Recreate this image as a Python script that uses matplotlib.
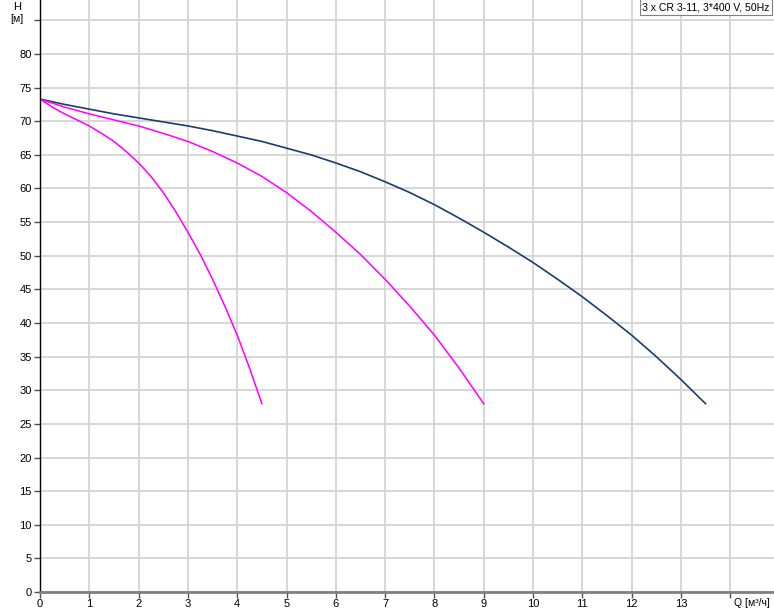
import matplotlib.pyplot as plt

# pump curves (Q in m3/h, H in m)
q_three = [0, 0.5, 1, 1.5, 2, 2.5, 3, 3.5, 4, 4.5, 5, 5.5, 6, 6.5, 7, 7.5,
           8, 8.5, 9, 9.5, 10, 10.5, 11, 11.5, 12, 12.5, 13, 13.5]
h_three = [73.3, 72.5, 71.8, 71.1, 70.5, 69.9, 69.3, 68.6, 67.8, 67.0, 66.0, 65.0,
           63.8, 62.5, 61.0, 59.4, 57.6, 55.6, 53.5, 51.3, 49.0, 46.5, 43.9, 41.1,
           38.2, 35.0, 31.6, 28.0]

q_two = [0, 0.5, 1, 1.5, 2, 2.5, 3, 3.5, 4, 4.5, 5, 5.5, 6, 6.5, 7, 7.5, 8, 8.5, 9]
h_two = [73.3, 72.1, 71.1, 70.2, 69.3, 68.2, 67.0, 65.5, 63.8, 61.8, 59.4, 56.6,
         53.5, 50.2, 46.5, 42.5, 38.2, 33.3, 28.0]

q_one = [0, 0.25, 0.5, 0.75, 1, 1.25, 1.5, 1.75, 2, 2.25, 2.5, 2.75, 3, 3.25,
         3.5, 3.75, 4, 4.25, 4.5]
h_one = [73.3, 72.1, 71.1, 70.2, 69.3, 68.2, 67.0, 65.5, 63.8, 61.8, 59.4, 56.6,
         53.5, 50.2, 46.5, 42.5, 38.2, 33.3, 28.0]

x_ticks = list(range(0, 15))
x_labels = [str(v) for v in range(0, 14)] + ['']
y_ticks = list(range(0, 90, 5))
y_labels = [str(v) for v in range(0, 85, 5)] + ['']

legend_text = '3 x CR 3-11, 3*400 V, 50Hz'

plt.rcParams['font.family'] = ['Liberation Sans', 'DejaVu Sans']

fig = plt.figure(figsize=(7.74, 6.11), dpi=100)
W, H = 774, 611
ax = fig.add_axes([40 / W, 19 / H, 734 / W, 592 / H])

ax.plot(q_three, h_three, color='#1b3d6b', lw=1.2, solid_joinstyle='round')
ax.plot(q_two, h_two, color='#ff00ff', lw=1.1, solid_joinstyle='round')
ax.plot(q_one, h_one, color='#ff00ff', lw=1.1, solid_joinstyle='round')

ax.set_xlim(0, 734 / 49.3)
ax.set_ylim(0, 592 / 6.725)
ax.set_xticks(x_ticks)
ax.set_xticklabels(x_labels)
ax.set_yticks(y_ticks)
ax.set_yticklabels(y_labels)
ax.tick_params(axis='both', labelsize=8, length=4, colors='#505050',
               labelcolor='black', width=1)
ax.tick_params(axis='x', pad=1)
ax.tick_params(axis='y', pad=2)

ax.grid(True, color='#d4d4d4', lw=1.3)
ax.set_axisbelow(True)
for s in ['top', 'right']:
    ax.spines[s].set_visible(False)
ax.spines['left'].set_color('black')
ax.spines['left'].set_linewidth(1)
ax.spines['bottom'].set_color('#808080')
ax.spines['bottom'].set_linewidth(2)

fig.text(17 / W, 1 - 7 / H, 'H', ha='center', va='center', fontsize=8)
fig.text(17 / W, 1 - 19 / H, '[м]', ha='center', va='center', fontsize=7.5)
fig.text(752 / W, 1 - 603 / H, 'Q [м³/ч]', ha='center', va='center', fontsize=7.5)

fig.text(706 / W, 1 - 7 / H, legend_text, ha='center', va='center', fontsize=7.6,
         bbox=dict(boxstyle='square,pad=0.25', fc='white', ec='#808080', lw=0.8))

fig.savefig('out.png', dpi=100)
